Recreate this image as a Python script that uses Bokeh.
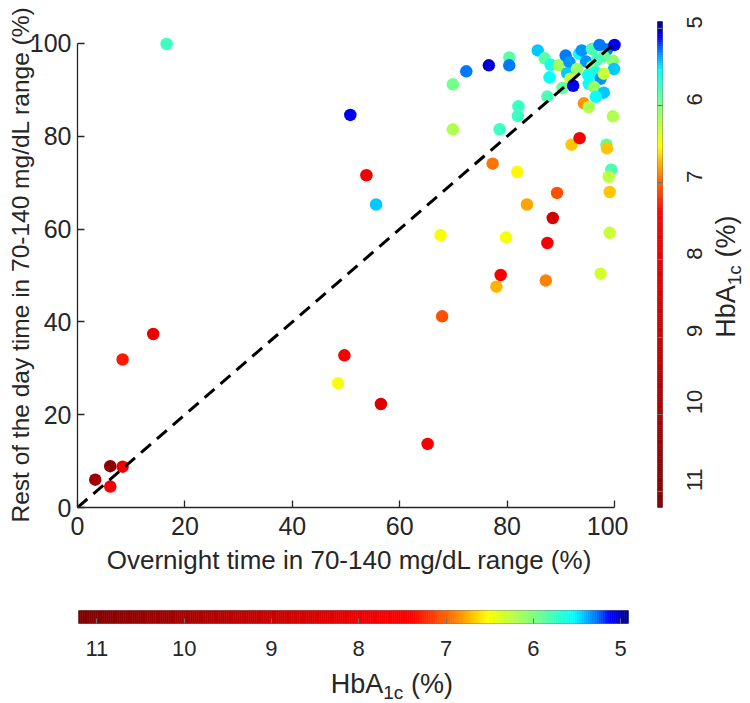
import math
import numpy as np
from bokeh.plotting import figure
from bokeh.models import Range1d, LinearColorMapper, FixedTicker, ColumnDataSource
from bokeh.core.properties import value
from bokeh.layouts import row, column
from bokeh.embed import file_html
from bokeh.resources import INLINE

# ---------------- data ----------------
overnight = [3.3, 6.1, 8.4, 6.1, 8.4, 14.1, 16.6, 50.8, 53.8, 55.6,
             49.7, 48.5, 56.5, 65.2, 67.9, 67.6, 69.9, 69.9, 72.4, 76.6,
             77.3, 78.0, 78.8, 78.6, 79.8, 80.4, 80.4, 81.9, 82.1, 82.0,
             83.7, 85.7, 87.0, 87.2, 87.5, 87.5, 87.9, 88.1, 88.5, 89.3,
             89.6, 90.9, 91.6, 91.2, 91.8, 90.3, 92.3, 92.0, 93.5, 93.4,
             93.9, 94.7, 93.0, 95.8, 97.2, 98.6, 100.0, 99.7, 99.9, 95.8,
             95.1, 96.5, 97.4, 98.0, 95.2, 96.2, 98.0, 96.5, 94.3, 95.2,
             99.7, 98.5, 98.6, 99.4, 98.9, 99.1, 99.1, 97.4, 98.0, 96.8]
rest_of_day = [6.0, 8.9, 8.8, 4.5, 31.9, 37.4, 99.9, 84.6, 71.6, 65.3,
               32.8, 26.8, 22.3, 13.7, 41.2, 58.7, 81.5, 91.2, 94.0, 95.3,
               74.1, 47.6, 50.1, 81.5, 58.2, 97.0, 95.3, 72.3, 86.5, 84.4,
               65.3, 98.5, 96.8, 48.9, 57.0, 88.6, 92.7, 95.4, 62.4, 67.8,
               95.3, 97.4, 96.0, 93.6, 92.4, 90.4, 90.9, 78.2, 79.6, 97.8,
               98.5, 96.1, 94.5, 98.8, 99.7, 98.7, 99.7, 96.3, 94.5, 95.0,
               93.2, 93.8, 92.4, 93.5, 91.3, 90.6, 89.4, 88.5, 87.1, 86.3,
               84.3, 78.2, 77.4, 72.8, 71.3, 68.0, 59.2, 50.4, 97.2, 96.6]
hba1c = [10.2, 10.9, 7.9, 7.7, 7.3, 8.0, 5.75, 5.1, 7.8, 5.45,
         7.6, 6.5, 8.3, 7.7, 7.1, 6.5, 6.2, 5.95, 5.3, 5.05,
         6.95, 6.75, 7.6, 5.75, 6.5, 5.85, 5.3, 6.55, 5.75, 5.75,
         6.8, 5.45, 5.85, 6.9, 7.6, 5.8, 5.55, 5.6, 8.7, 7.1,
         6.15, 5.3, 5.35, 5.45, 6.3, 5.9, 5.1, 6.7, 7.6, 5.55,
         5.35, 5.35, 6.1, 5.8, 5.3, 5.3, 5.1, 6.05, 5.45, 6.1,
         5.55, 5.6, 5.35, 6.3, 5.55, 6.1, 5.45, 5.55, 6.85, 6.2,
         6.2, 5.85, 6.7, 5.8, 6.25, 6.7, 6.3, 6.35, 5.9, 5.8]

identity_line = [0, 100]
axis_ticks = [0, 20, 40, 60, 80, 100]
cb_ticks = [5, 6, 7, 8, 9, 10, 11]
cb_low, cb_high = 4.91, 11.21
cb_title_parts = ["HbA", "1c", "(%)"]

# ---------------- colour map (jet, stretched toward red) ----------------
anchor_v = [4.91, 5.12, 5.30, 5.54, 6.00, 6.53, 6.90, 7.40, 11.21]
anchor_t = [0.0, 0.125, 0.25, 0.375, 0.5, 0.625, 0.75, 0.875, 1.0]


def jet(t):
    r = min(max(min(4 * t - 1.5, -4 * t + 4.5), 0), 1)
    g = min(max(min(4 * t - 0.5, -4 * t + 3.5), 0), 1)
    b = min(max(min(4 * t + 0.5, -4 * t + 2.5), 0), 1)
    return "#%02x%02x%02x" % (int(round(r * 255)), int(round(g * 255)), int(round(b * 255)))


N = 256
pal_vals = [cb_low + (i + 0.5) / N * (cb_high - cb_low) for i in range(N)]
palette = [jet(float(np.interp(v, anchor_v, anchor_t))) for v in pal_vals]
mapper = LinearColorMapper(palette=palette, low=cb_low, high=cb_high)

FONT = "Liberation Sans"
TXT = "#262626"
TOP, BOTTOM = 21, 73          # shared top / bottom borders of the upper row
ROW_H = 580


def bare(fig):
    fig.grid.visible = False
    fig.outline_line_color = None
    fig.background_fill_color = "white"
    fig.border_fill_color = "white"
    return fig


COMMON = dict(output_backend="svg", toolbar_location=None, title=None)

# ---------------- main scatter ----------------
p = bare(figure(width=628, height=ROW_H, x_range=Range1d(0, 101.3), y_range=Range1d(0, 104.74),
                min_border_left=77, min_border_right=7, min_border_top=TOP, min_border_bottom=BOTTOM,
                **COMMON))
src = ColumnDataSource(dict(x=overnight, y=rest_of_day, h=hba1c))
p.scatter("x", "y", source=src, size=12.5, line_color=None,
          fill_color={"field": "h", "transform": mapper})
p.line(identity_line, identity_line, line_color="black", line_width=3, line_dash="13 8")

for ax in (p.xaxis, p.yaxis):
    ax.ticker = FixedTicker(ticks=axis_ticks)
    ax.bounds = (0, 100)
    ax.major_tick_in = 7
    ax.major_tick_out = 0
    ax.minor_tick_line_color = None
    ax.axis_line_color = TXT
    ax.axis_line_width = 1.3
    ax.major_tick_line_color = TXT
    ax.major_tick_line_width = 1.3
    ax.major_label_text_font = FONT
    ax.major_label_text_font_size = "25px"
    ax.major_label_text_color = TXT
    ax.axis_label_text_font = FONT
    ax.axis_label_text_font_style = "normal"
    ax.axis_label_text_color = TXT
p.xaxis.axis_label_text_font_size = "26px"
p.yaxis.axis_label_text_font_size = "24.5px"
p.xaxis.axis_label = "Overnight time in 70-140 mg/dL range (%)"
p.yaxis.axis_label = "Rest of the day time in 70-140 mg/dL range (%)"
p.xaxis.major_label_standoff = 9
p.yaxis.major_label_standoff = 6
p.xaxis.axis_label_standoff = 7
p.yaxis.axis_label_standoff = -7

# ---------------- right (vertical) colour bar ----------------
edges = np.linspace(cb_low, cb_high, N + 1)
mids = (edges[:-1] + edges[1:]) / 2
cb_src = ColumnDataSource(dict(lo=edges[:-1], hi=edges[1:], mid=mids))
cb_y = Range1d(cb_high, cb_low)

p2 = bare(figure(width=84, height=ROW_H, x_range=Range1d(0, 1), y_range=cb_y,
                 min_border_left=29, min_border_right=40, min_border_top=TOP, min_border_bottom=BOTTOM,
                 x_axis_location=None, y_axis_location="right", **COMMON))
p2.outline_line_color = "#7f7f7f"
p2.quad(left=0, right=1, bottom="lo", top="hi", source=cb_src,
        fill_color={"field": "mid", "transform": mapper},
        line_color={"field": "mid", "transform": mapper}, line_width=0.6)
ya = p2.yaxis[0]
ya.ticker = FixedTicker(ticks=cb_ticks)
ya.major_tick_in = 5
ya.major_tick_out = 0
ya.minor_tick_line_color = None
ya.axis_line_color = None
ya.major_tick_line_color = "#6f6f6f"
ya.major_label_orientation = math.pi / 2
ya.major_label_text_font = FONT
ya.major_label_text_font_size = "22px"
ya.major_label_text_color = TXT
ya.major_label_standoff = 32

# title column for the right colour bar
p5 = bare(figure(width=38, height=ROW_H, x_range=Range1d(0, 1), y_range=cb_y,
                 min_border_left=0, min_border_right=0, min_border_top=TOP, min_border_bottom=BOTTOM,
                 x_axis_location=None, y_axis_location=None, **COMMON))
rt = dict(angle=math.pi / 2, text_font=value(FONT), text_color=TXT,
          text_align="left", text_baseline="middle")
p5.text(x=[0.368], y=[9.01], text=[cb_title_parts[0]], text_font_size=value("27px"), **rt)
p5.text(x=[0.579], y=[8.33], text=[cb_title_parts[1]], text_font_size=value("19px"), **rt)
p5.text(x=[0.368], y=[7.97], text=[cb_title_parts[2]], text_font_size=value("27px"), **rt)

# ---------------- bottom (horizontal) colour bar ----------------
cb_x = Range1d(cb_high, cb_low)
p3 = bare(figure(width=742, height=83, x_range=cb_x, y_range=Range1d(0, 1),
                 min_border_left=78, min_border_right=114, min_border_top=30, min_border_bottom=40,
                 y_axis_location=None, **COMMON))
p3.outline_line_color = "#7f7f7f"
p3.quad(left="lo", right="hi", bottom=0, top=1, source=cb_src,
        fill_color={"field": "mid", "transform": mapper},
        line_color={"field": "mid", "transform": mapper}, line_width=0.6)
xa = p3.xaxis[0]
xa.ticker = FixedTicker(ticks=cb_ticks)
xa.major_tick_in = 5
xa.major_tick_out = 0
xa.minor_tick_line_color = None
xa.axis_line_color = None
xa.major_tick_line_color = "#6f6f6f"
xa.major_label_text_font = FONT
xa.major_label_text_font_size = "22px"
xa.major_label_text_color = TXT
xa.major_label_standoff = 17

# title row for the bottom colour bar
p4 = bare(figure(width=742, height=40, x_range=cb_x, y_range=Range1d(0, 40),
                 min_border_left=78, min_border_right=114, min_border_top=0, min_border_bottom=0,
                 x_axis_location=None, y_axis_location=None, **COMMON))
bt = dict(text_font=value(FONT), text_color=TXT, text_align="left", text_baseline="middle")
p4.text(x=[8.32], y=[20], text=[cb_title_parts[0]], text_font_size=value("27px"), **bt)
p4.text(x=[7.72], y=[11], text=[cb_title_parts[1]], text_font_size=value("19px"), **bt)
p4.text(x=[7.40], y=[20], text=[cb_title_parts[2]], text_font_size=value("27px"), **bt)

layout = column(row(p, p2, p5), p3, p4)
open("out.html", "w").write(file_html(layout, INLINE))
